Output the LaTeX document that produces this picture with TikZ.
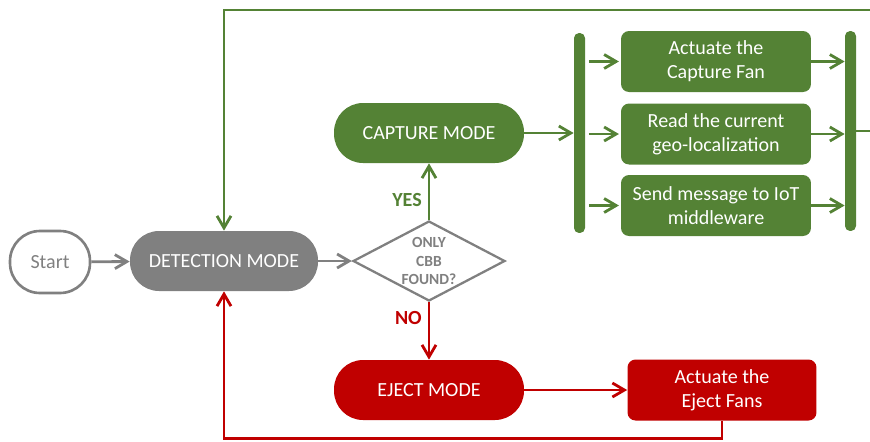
\documentclass[tikz,border=0pt]{standalone}
\usepackage{fontspec}
\setmainfont{Carlito}
\usetikzlibrary{shapes.geometric,arrows.meta}

\definecolor{capgreen}{HTML}{548235}
\definecolor{ejred}{HTML}{C00000}
\definecolor{detgray}{HTML}{808080}

\begin{document}
\begin{tikzpicture}[x=0.02cm,y=-0.02cm,
	mode/.style={shape=rectangle,rounded corners=0.58cm,minimum width=3.8cm,minimum height=1.2cm,text=white,font=\fontsize{11.4}{13.7}\selectfont},
	task/.style={shape=rectangle,rounded corners=0.16cm,minimum width=3.8cm,minimum height=1.22cm,text=white,align=center,font=\fontsize{11.4}{13.7}\selectfont},
	bar/.style={shape=rectangle,rounded corners=0.1cm,minimum width=0.22cm,minimum height=4cm,inner sep=0pt,fill=capgreen},
	flow/.style={line width=1.6pt,-{Straight Barb[length=2.4mm,width=2.8mm]}},
	answer/.style={font=\fontsize{11.4}{13.7}\selectfont\bfseries}]
	\useasboundingbox (0,0) rectangle (870,441);

	\node[shape=rectangle,draw=detgray,line width=1.5pt,rounded corners=0.6cm,minimum width=1.6cm,minimum height=1.24cm,text=detgray,font=\fontsize{11.4}{13.7}\selectfont] (start) at (50,262) {Start};
	\node[mode,fill=detgray,minimum width=3.76cm] (detect) at (224,261) {DETECTION MODE};
	\node[shape=diamond,draw=detgray,line width=1.3pt,minimum width=3.04cm,minimum height=1.6cm,inner sep=0pt,
		label={[text=detgray,font=\fontsize{8.8}{10.5}\selectfont\bfseries,align=center]center:ONLY\\CBB\\FOUND?}] (found) at (429,261) {};
	\node[mode,fill=capgreen] (capture) at (429,133) {CAPTURE MODE};
	\node[mode,fill=ejred] (eject) at (429,390) {EJECT MODE};
	\node[task,fill=ejred,minimum width=3.78cm] (ejfans) at (722,390) {Actuate the\\Eject Fans};

	\node[bar] (lbar) at (579.5,133) {};
	\node[bar] (rbar) at (850.5,131) {};
	\node[task,fill=capgreen] (capfan) at (716,61.5) {Actuate the\\Capture Fan};
	\node[task,fill=capgreen] (geoloc) at (716,134) {Read the current\\geo-localization};
	\node[task,fill=capgreen] (iotmsg) at (716,205.5) {Send message to IoT\\middleware};
	\coordinate (topright) at (885,10);

	\path[flow,draw=detgray] (start) edge (detect);
	\path[flow,draw=detgray] (detect) edge (found);
	\path[flow,draw=capgreen] (found) edge node[answer,text=capgreen,pos=0.35,left]{YES} (capture);
	\path[flow,draw=ejred] (found) edge node[answer,text=ejred,pos=0.27,left]{NO} (eject);
	\path[flow,draw=ejred] (eject) edge (ejfans);
	\path[flow,draw=capgreen] (capture) edge (capture -| lbar.west);

	\draw[flow,capgreen,shorten <=2pt,shorten >=1pt] (lbar.east |- capfan.west) -- (capfan.west);
	\draw[flow,capgreen,shorten <=2pt,shorten >=1pt] (lbar.east |- geoloc.west) -- (geoloc.west);
	\draw[flow,capgreen,shorten <=2pt,shorten >=1pt] (lbar.east |- iotmsg.west) -- (iotmsg.west);
	\draw[flow,capgreen] (capfan.east) -- (capfan.east -| rbar.west);
	\draw[flow,capgreen] (geoloc.east) -- (geoloc.east -| rbar.west);
	\draw[flow,capgreen] (iotmsg.east) -- (iotmsg.east -| rbar.west);

	% loops back to detection
	\draw[flow,capgreen] (rbar.east) -| (topright) -| (detect.north);
	\draw[flow,ejred] (ejfans.south) -- ++(0,18) -| (detect.south);
\end{tikzpicture}
\end{document}
